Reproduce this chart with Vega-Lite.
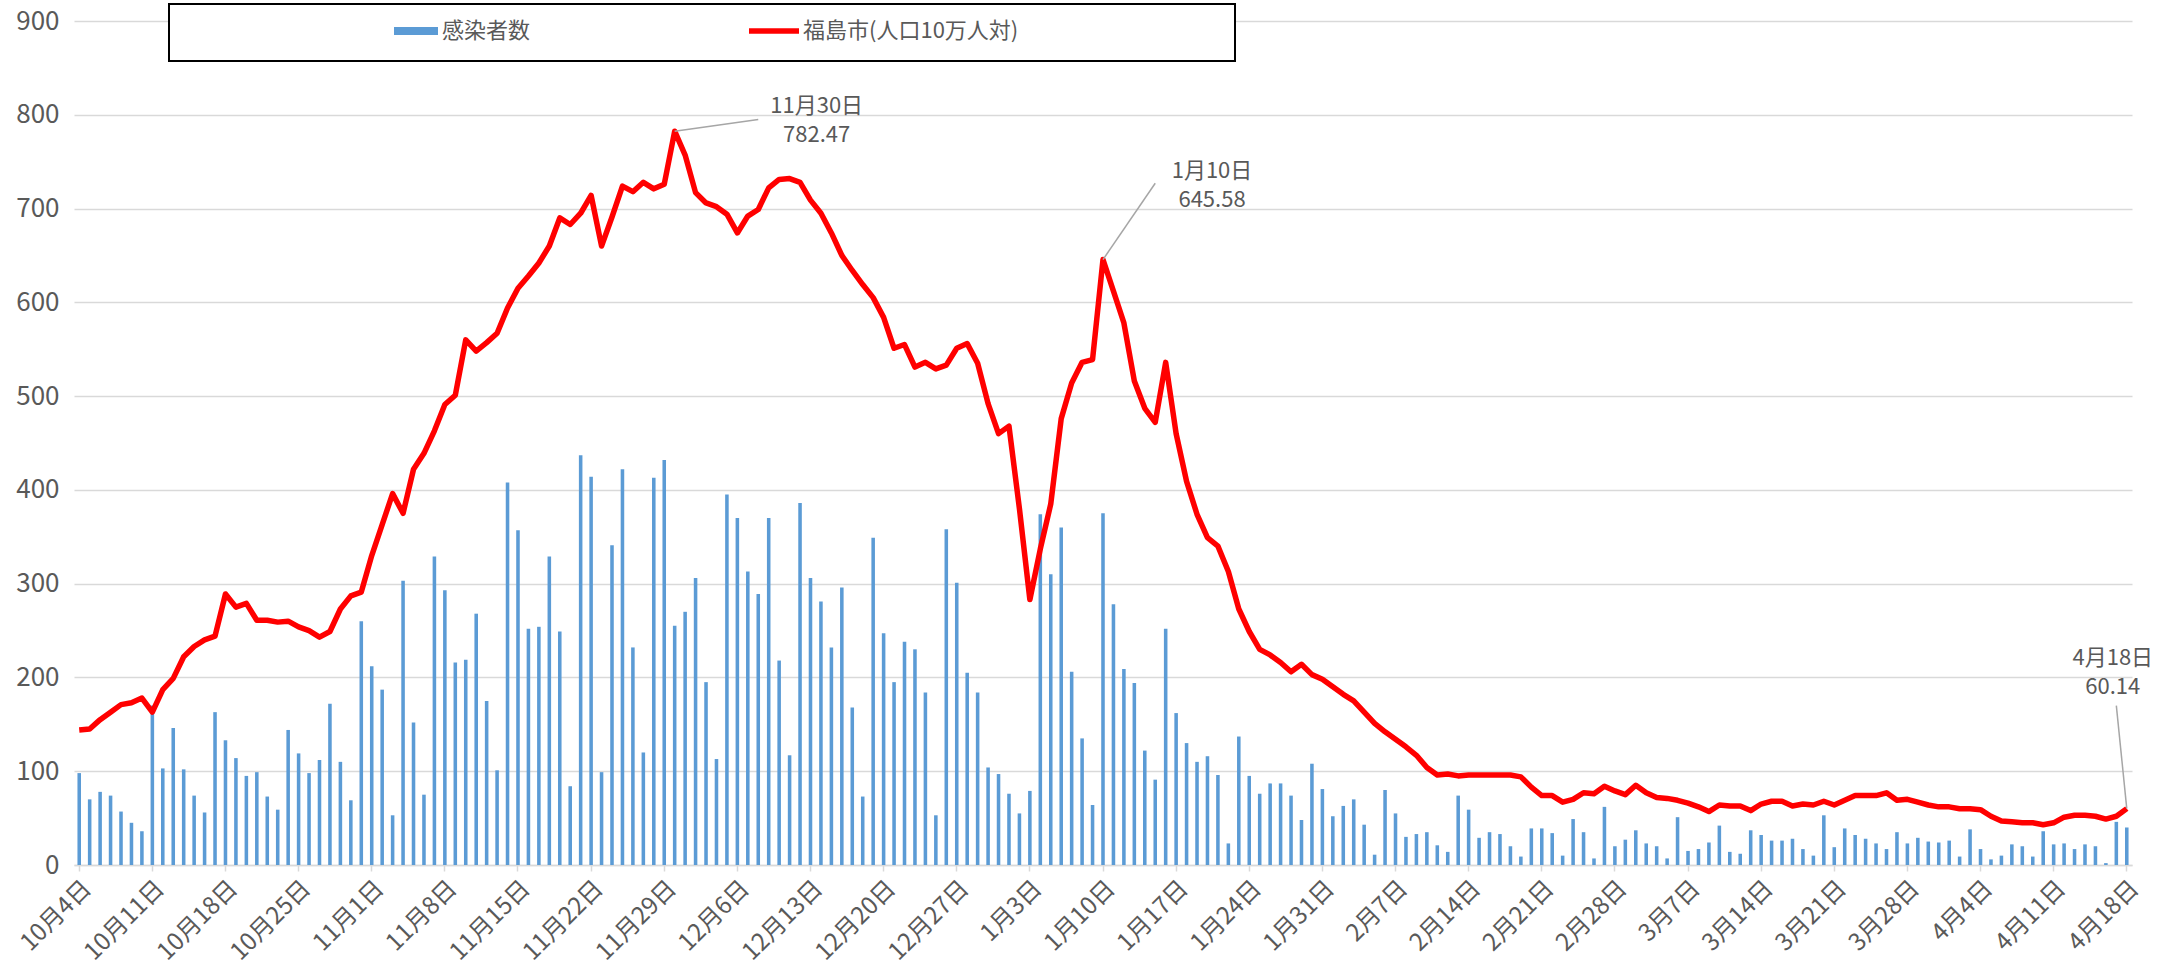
{
  "$schema": "https://vega.github.io/schema/vega-lite/v6.json",
  "width": 2058,
  "height": 844,
  "autosize": {"type": "none"},
  "padding": {"left": 74, "top": 21, "right": 38, "bottom": 101},
  "background": "white",
  "config": {
    "font": "Noto Sans CJK JP",
    "view": {"stroke": null},
    "text": {"lineBreak": "\n"}
  },
  "datasets": {
    "daily": [
      {"日付":"10月4日","感染者数":98,"人口10万人対":144},
      {"日付":"10月5日","感染者数":70,"人口10万人対":145},
      {"日付":"10月6日","感染者数":78,"人口10万人対":155},
      {"日付":"10月7日","感染者数":74,"人口10万人対":163},
      {"日付":"10月8日","感染者数":57,"人口10万人対":171},
      {"日付":"10月9日","感染者数":45,"人口10万人対":173},
      {"日付":"10月10日","感染者数":36,"人口10万人対":178},
      {"日付":"10月11日","感染者数":170,"人口10万人対":163},
      {"日付":"10月12日","感染者数":103,"人口10万人対":187},
      {"日付":"10月13日","感染者数":146,"人口10万人対":199},
      {"日付":"10月14日","感染者数":102,"人口10万人対":222},
      {"日付":"10月15日","感染者数":74,"人口10万人対":233},
      {"日付":"10月16日","感染者数":56,"人口10万人対":240},
      {"日付":"10月17日","感染者数":163,"人口10万人対":244},
      {"日付":"10月18日","感染者数":133,"人口10万人対":289},
      {"日付":"10月19日","感染者数":114,"人口10万人対":275},
      {"日付":"10月20日","感染者数":95,"人口10万人対":279},
      {"日付":"10月21日","感染者数":99,"人口10万人対":261},
      {"日付":"10月22日","感染者数":73,"人口10万人対":261},
      {"日付":"10月23日","感染者数":59,"人口10万人対":259},
      {"日付":"10月24日","感染者数":144,"人口10万人対":260},
      {"日付":"10月25日","感染者数":119,"人口10万人対":254},
      {"日付":"10月26日","感染者数":98,"人口10万人対":250},
      {"日付":"10月27日","感染者数":112,"人口10万人対":243},
      {"日付":"10月28日","感染者数":172,"人口10万人対":249},
      {"日付":"10月29日","感染者数":110,"人口10万人対":273},
      {"日付":"10月30日","感染者数":69,"人口10万人対":287},
      {"日付":"10月31日","感染者数":260,"人口10万人対":291},
      {"日付":"11月1日","感染者数":212,"人口10万人対":330},
      {"日付":"11月2日","感染者数":187,"人口10万人対":363},
      {"日付":"11月3日","感染者数":53,"人口10万人対":396},
      {"日付":"11月4日","感染者数":303,"人口10万人対":375},
      {"日付":"11月5日","感染者数":152,"人口10万人対":422},
      {"日付":"11月6日","感染者数":75,"人口10万人対":439},
      {"日付":"11月7日","感染者数":329,"人口10万人対":463},
      {"日付":"11月8日","感染者数":293,"人口10万人対":491},
      {"日付":"11月9日","感染者数":216,"人口10万人対":501},
      {"日付":"11月10日","感染者数":219,"人口10万人対":560},
      {"日付":"11月11日","感染者数":268,"人口10万人対":548},
      {"日付":"11月12日","感染者数":175,"人口10万人対":557},
      {"日付":"11月13日","感染者数":101,"人口10万人対":567},
      {"日付":"11月14日","感染者数":408,"人口10万人対":594},
      {"日付":"11月15日","感染者数":357,"人口10万人対":615},
      {"日付":"11月16日","感染者数":252,"人口10万人対":628},
      {"日付":"11月17日","感染者数":254,"人口10万人対":642},
      {"日付":"11月18日","感染者数":329,"人口10万人対":660},
      {"日付":"11月19日","感染者数":249,"人口10万人対":690},
      {"日付":"11月20日","感染者数":84,"人口10万人対":683},
      {"日付":"11月21日","感染者数":437,"人口10万人対":695},
      {"日付":"11月22日","感染者数":414,"人口10万人対":714},
      {"日付":"11月23日","感染者数":99,"人口10万人対":660},
      {"日付":"11月24日","感染者数":341,"人口10万人対":691},
      {"日付":"11月25日","感染者数":422,"人口10万人対":724},
      {"日付":"11月26日","感染者数":232,"人口10万人対":718},
      {"日付":"11月27日","感染者数":120,"人口10万人対":728},
      {"日付":"11月28日","感染者数":413,"人口10万人対":721},
      {"日付":"11月29日","感染者数":432,"人口10万人対":726},
      {"日付":"11月30日","感染者数":255,"人口10万人対":782.47},
      {"日付":"12月1日","感染者数":270,"人口10万人対":757},
      {"日付":"12月2日","感染者数":306,"人口10万人対":717},
      {"日付":"12月3日","感染者数":195,"人口10万人対":706},
      {"日付":"12月4日","感染者数":113,"人口10万人対":702},
      {"日付":"12月5日","感染者数":395,"人口10万人対":694},
      {"日付":"12月6日","感染者数":370,"人口10万人対":674},
      {"日付":"12月7日","感染者数":313,"人口10万人対":692},
      {"日付":"12月8日","感染者数":289,"人口10万人対":699},
      {"日付":"12月9日","感染者数":370,"人口10万人対":722},
      {"日付":"12月10日","感染者数":218,"人口10万人対":731},
      {"日付":"12月11日","感染者数":117,"人口10万人対":732},
      {"日付":"12月12日","感染者数":386,"人口10万人対":728},
      {"日付":"12月13日","感染者数":306,"人口10万人対":709},
      {"日付":"12月14日","感染者数":281,"人口10万人対":695},
      {"日付":"12月15日","感染者数":232,"人口10万人対":674},
      {"日付":"12月16日","感染者数":296,"人口10万人対":650},
      {"日付":"12月17日","感染者数":168,"人口10万人対":634},
      {"日付":"12月18日","感染者数":73,"人口10万人対":619},
      {"日付":"12月19日","感染者数":349,"人口10万人対":605},
      {"日付":"12月20日","感染者数":247,"人口10万人対":584},
      {"日付":"12月21日","感染者数":195,"人口10万人対":551},
      {"日付":"12月22日","感染者数":238,"人口10万人対":555},
      {"日付":"12月23日","感染者数":230,"人口10万人対":531},
      {"日付":"12月24日","感染者数":184,"人口10万人対":536},
      {"日付":"12月25日","感染者数":53,"人口10万人対":529},
      {"日付":"12月26日","感染者数":358,"人口10万人対":533},
      {"日付":"12月27日","感染者数":301,"人口10万人対":551},
      {"日付":"12月28日","感染者数":205,"人口10万人対":556},
      {"日付":"12月29日","感染者数":184,"人口10万人対":535},
      {"日付":"12月30日","感染者数":104,"人口10万人対":492},
      {"日付":"12月31日","感染者数":97,"人口10万人対":460},
      {"日付":"1月1日","感染者数":76,"人口10万人対":468},
      {"日付":"1月2日","感染者数":55,"人口10万人対":380},
      {"日付":"1月3日","感染者数":79,"人口10万人対":283},
      {"日付":"1月4日","感染者数":374,"人口10万人対":337},
      {"日付":"1月5日","感染者数":310,"人口10万人対":385},
      {"日付":"1月6日","感染者数":360,"人口10万人対":476},
      {"日付":"1月7日","感染者数":206,"人口10万人対":514},
      {"日付":"1月8日","感染者数":135,"人口10万人対":536},
      {"日付":"1月9日","感染者数":64,"人口10万人対":539},
      {"日付":"1月10日","感染者数":375,"人口10万人対":645.58},
      {"日付":"1月11日","感染者数":278,"人口10万人対":612},
      {"日付":"1月12日","感染者数":209,"人口10万人対":578},
      {"日付":"1月13日","感染者数":194,"人口10万人対":516},
      {"日付":"1月14日","感染者数":122,"人口10万人対":487},
      {"日付":"1月15日","感染者数":91,"人口10万人対":472},
      {"日付":"1月16日","感染者数":252,"人口10万人対":536},
      {"日付":"1月17日","感染者数":162,"人口10万人対":460},
      {"日付":"1月18日","感染者数":130,"人口10万人対":409},
      {"日付":"1月19日","感染者数":110,"人口10万人対":374},
      {"日付":"1月20日","感染者数":116,"人口10万人対":349},
      {"日付":"1月21日","感染者数":96,"人口10万人対":340},
      {"日付":"1月22日","感染者数":23,"人口10万人対":313},
      {"日付":"1月23日","感染者数":137,"人口10万人対":273},
      {"日付":"1月24日","感染者数":95,"人口10万人対":249},
      {"日付":"1月25日","感染者数":76,"人口10万人対":230},
      {"日付":"1月26日","感染者数":87,"人口10万人対":224},
      {"日付":"1月27日","感染者数":87,"人口10万人対":216},
      {"日付":"1月28日","感染者数":74,"人口10万人対":206},
      {"日付":"1月29日","感染者数":48,"人口10万人対":214},
      {"日付":"1月30日","感染者数":108,"人口10万人対":203},
      {"日付":"1月31日","感染者数":81,"人口10万人対":198},
      {"日付":"2月1日","感染者数":52,"人口10万人対":190},
      {"日付":"2月2日","感染者数":63,"人口10万人対":182},
      {"日付":"2月3日","感染者数":70,"人口10万人対":175},
      {"日付":"2月4日","感染者数":43,"人口10万人対":163},
      {"日付":"2月5日","感染者数":11,"人口10万人対":151},
      {"日付":"2月6日","感染者数":80,"人口10万人対":142},
      {"日付":"2月7日","感染者数":55,"人口10万人対":134},
      {"日付":"2月8日","感染者数":30,"人口10万人対":126},
      {"日付":"2月9日","感染者数":33,"人口10万人対":117},
      {"日付":"2月10日","感染者数":35,"人口10万人対":104},
      {"日付":"2月11日","感染者数":21,"人口10万人対":96},
      {"日付":"2月12日","感染者数":14,"人口10万人対":97},
      {"日付":"2月13日","感染者数":74,"人口10万人対":95},
      {"日付":"2月14日","感染者数":59,"人口10万人対":96},
      {"日付":"2月15日","感染者数":29,"人口10万人対":96},
      {"日付":"2月16日","感染者数":35,"人口10万人対":96},
      {"日付":"2月17日","感染者数":33,"人口10万人対":96},
      {"日付":"2月18日","感染者数":20,"人口10万人対":96},
      {"日付":"2月19日","感染者数":9,"人口10万人対":94},
      {"日付":"2月20日","感染者数":39,"人口10万人対":83},
      {"日付":"2月21日","感染者数":39,"人口10万人対":74},
      {"日付":"2月22日","感染者数":34,"人口10万人対":74},
      {"日付":"2月23日","感染者数":10,"人口10万人対":67},
      {"日付":"2月24日","感染者数":49,"人口10万人対":70},
      {"日付":"2月25日","感染者数":35,"人口10万人対":77},
      {"日付":"2月26日","感染者数":7,"人口10万人対":76},
      {"日付":"2月27日","感染者数":62,"人口10万人対":84},
      {"日付":"2月28日","感染者数":20,"人口10万人対":79},
      {"日付":"3月1日","感染者数":27,"人口10万人対":75},
      {"日付":"3月2日","感染者数":37,"人口10万人対":85},
      {"日付":"3月3日","感染者数":23,"人口10万人対":77},
      {"日付":"3月4日","感染者数":20,"人口10万人対":72},
      {"日付":"3月5日","感染者数":7,"人口10万人対":71},
      {"日付":"3月6日","感染者数":51,"人口10万人対":69},
      {"日付":"3月7日","感染者数":15,"人口10万人対":66},
      {"日付":"3月8日","感染者数":17,"人口10万人対":62},
      {"日付":"3月9日","感染者数":24,"人口10万人対":57},
      {"日付":"3月10日","感染者数":42,"人口10万人対":64},
      {"日付":"3月11日","感染者数":14,"人口10万人対":63},
      {"日付":"3月12日","感染者数":12,"人口10万人対":63},
      {"日付":"3月13日","感染者数":37,"人口10万人対":58},
      {"日付":"3月14日","感染者数":32,"人口10万人対":65},
      {"日付":"3月15日","感染者数":26,"人口10万人対":68},
      {"日付":"3月16日","感染者数":26,"人口10万人対":68},
      {"日付":"3月17日","感染者数":28,"人口10万人対":63},
      {"日付":"3月18日","感染者数":17,"人口10万人対":65},
      {"日付":"3月19日","感染者数":10,"人口10万人対":64},
      {"日付":"3月20日","感染者数":53,"人口10万人対":68},
      {"日付":"3月21日","感染者数":19,"人口10万人対":64},
      {"日付":"3月22日","感染者数":39,"人口10万人対":69},
      {"日付":"3月23日","感染者数":32,"人口10万人対":74},
      {"日付":"3月24日","感染者数":28,"人口10万人対":74},
      {"日付":"3月25日","感染者数":23,"人口10万人対":74},
      {"日付":"3月26日","感染者数":17,"人口10万人対":77},
      {"日付":"3月27日","感染者数":35,"人口10万人対":69},
      {"日付":"3月28日","感染者数":23,"人口10万人対":70},
      {"日付":"3月29日","感染者数":29,"人口10万人対":67},
      {"日付":"3月30日","感染者数":25,"人口10万人対":64},
      {"日付":"3月31日","感染者数":24,"人口10万人対":62},
      {"日付":"4月1日","感染者数":26,"人口10万人対":62},
      {"日付":"4月2日","感染者数":9,"人口10万人対":60},
      {"日付":"4月3日","感染者数":38,"人口10万人対":60},
      {"日付":"4月4日","感染者数":17,"人口10万人対":59},
      {"日付":"4月5日","感染者数":6,"人口10万人対":52},
      {"日付":"4月6日","感染者数":10,"人口10万人対":47},
      {"日付":"4月7日","感染者数":22,"人口10万人対":46},
      {"日付":"4月8日","感染者数":20,"人口10万人対":45},
      {"日付":"4月9日","感染者数":9,"人口10万人対":45},
      {"日付":"4月10日","感染者数":36,"人口10万人対":43},
      {"日付":"4月11日","感染者数":22,"人口10万人対":45},
      {"日付":"4月12日","感染者数":23,"人口10万人対":51},
      {"日付":"4月13日","感染者数":17,"人口10万人対":53},
      {"日付":"4月14日","感染者数":22,"人口10万人対":53},
      {"日付":"4月15日","感染者数":20,"人口10万人対":52},
      {"日付":"4月16日","感染者数":2,"人口10万人対":49},
      {"日付":"4月17日","感染者数":46,"人口10万人対":52},
      {"日付":"4月18日","感染者数":40,"人口10万人対":60.14}
    ],
    "leaders": [
      {"g":"a","日付":"11月30日","値":782.47},
      {"g":"a","日付":"12月8日","値":795},
      {"g":"b","日付":"1月10日","値":645.58},
      {"g":"b","日付":"1月15日","値":727},
      {"g":"c","日付":"4月18日","値":60.14},
      {"g":"c","日付":"4月17日","値":170}
    ],
    "notes": [
      {"日付":"11月30日","値":782.47,"ラベル":"11月30日\n782.47"},
      {"日付":"1月10日","値":645.58,"ラベル":"1月10日\n645.58"},
      {"日付":"4月18日","値":60.14,"ラベル":"4月18日\n60.14"}
    ]
  },
  "layer": [
    {
      "data": {"name": "daily"},
      "mark": {"type": "bar"},
      "encoding": {
        "x": {
          "field": "日付", "type": "ordinal", "title": null,
          "scale": {
            "paddingInner": 0.66, "paddingOuter": 0.33,
            "domain": ["10月4日","10月5日","10月6日","10月7日","10月8日","10月9日","10月10日","10月11日","10月12日","10月13日","10月14日","10月15日","10月16日","10月17日","10月18日","10月19日","10月20日","10月21日","10月22日","10月23日","10月24日","10月25日","10月26日","10月27日","10月28日","10月29日","10月30日","10月31日","11月1日","11月2日","11月3日","11月4日","11月5日","11月6日","11月7日","11月8日","11月9日","11月10日","11月11日","11月12日","11月13日","11月14日","11月15日","11月16日","11月17日","11月18日","11月19日","11月20日","11月21日","11月22日","11月23日","11月24日","11月25日","11月26日","11月27日","11月28日","11月29日","11月30日","12月1日","12月2日","12月3日","12月4日","12月5日","12月6日","12月7日","12月8日","12月9日","12月10日","12月11日","12月12日","12月13日","12月14日","12月15日","12月16日","12月17日","12月18日","12月19日","12月20日","12月21日","12月22日","12月23日","12月24日","12月25日","12月26日","12月27日","12月28日","12月29日","12月30日","12月31日","1月1日","1月2日","1月3日","1月4日","1月5日","1月6日","1月7日","1月8日","1月9日","1月10日","1月11日","1月12日","1月13日","1月14日","1月15日","1月16日","1月17日","1月18日","1月19日","1月20日","1月21日","1月22日","1月23日","1月24日","1月25日","1月26日","1月27日","1月28日","1月29日","1月30日","1月31日","2月1日","2月2日","2月3日","2月4日","2月5日","2月6日","2月7日","2月8日","2月9日","2月10日","2月11日","2月12日","2月13日","2月14日","2月15日","2月16日","2月17日","2月18日","2月19日","2月20日","2月21日","2月22日","2月23日","2月24日","2月25日","2月26日","2月27日","2月28日","3月1日","3月2日","3月3日","3月4日","3月5日","3月6日","3月7日","3月8日","3月9日","3月10日","3月11日","3月12日","3月13日","3月14日","3月15日","3月16日","3月17日","3月18日","3月19日","3月20日","3月21日","3月22日","3月23日","3月24日","3月25日","3月26日","3月27日","3月28日","3月29日","3月30日","3月31日","4月1日","4月2日","4月3日","4月4日","4月5日","4月6日","4月7日","4月8日","4月9日","4月10日","4月11日","4月12日","4月13日","4月14日","4月15日","4月16日","4月17日","4月18日"]
          },
          "axis": {
            "values": ["10月4日","10月11日","10月18日","10月25日","11月1日","11月8日","11月15日","11月22日","11月29日","12月6日","12月13日","12月20日","12月27日","1月3日","1月10日","1月17日","1月24日","1月31日","2月7日","2月14日","2月21日","2月28日","3月7日","3月14日","3月21日","3月28日","4月4日","4月11日","4月18日"],
            "labelAngle": -45,
            "labelFontSize": 24,
            "labelColor": "#595959",
            "labelPadding": 5,
            "labelOverlap": false,
            "labelBound": false,
            "ticks": true,
            "tickColor": "#D9D9D9",
            "tickSize": 6,
            "tickWidth": 1.5,
            "domainColor": "#D9D9D9",
            "domainWidth": 1.5,
            "grid": false
          }
        },
        "y": {
          "field": "感染者数", "type": "quantitative", "title": null,
          "scale": {"domain": [0, 900], "nice": false},
          "axis": {
            "values": [0,100,200,300,400,500,600,700,800,900],
            "grid": true,
            "gridColor": "#D9D9D9",
            "gridWidth": 1.5,
            "domain": false,
            "ticks": false,
            "labelFontSize": 26,
            "labelColor": "#595959",
            "labelPadding": 15
          }
        },
        "color": {
          "datum": "感染者数",
          "scale": {"domain": ["感染者数", "福島市(人口10万人対)"], "range": ["#5B9BD5", "#FF0000"]},
          "legend": {
            "orient": "none",
            "legendX": 95,
            "legendY": -17,
            "direction": "horizontal",
            "title": null,
            "symbolSize": 2500,
            "symbolStrokeWidth": 0,
            "symbolOffset": 219,
            "labelFontSize": 22,
            "labelColor": "#595959",
            "labelOffset": 2,
            "labelLimit": 500,
            "columnPadding": 1,
            "padding": 2,
            "strokeColor": "#000000",
            "fillColor": "#FFFFFF",
            "encode": {
              "legend": {"update": {"strokeWidth": {"value": 2}}},
              "symbols": {
                "update": {
                  "shape": {"signal": "datum.value === '感染者数' ? 'M-0.84,-0.16H0.92V0.16H-0.84ZM0,1.12' : 'M-1.08,-0.11H0.92V0.11H-1.08ZM18.28,1.12'"},
                  "fill": {"signal": "datum.value === '感染者数' ? '#5B9BD5' : '#FF0000'"},
                  "stroke": {"value": "transparent"},
                  "strokeWidth": {"value": 0},
                  "opacity": {"value": 1},
                  "size": {"value": 2500}
                }
              }
            }
          }
        }
      }
    },
    {
      "data": {"name": "daily"},
      "mark": {"type": "line", "strokeWidth": 5.5, "strokeJoin": "round"},
      "encoding": {
        "x": {"field": "日付", "type": "ordinal", "title": null},
        "y": {"field": "人口10万人対", "type": "quantitative", "title": null},
        "color": {"datum": "福島市(人口10万人対)"}
      }
    },
    {
      "data": {"name": "leaders"},
      "mark": {"type": "line", "color": "#A6A6A6", "strokeWidth": 1.5},
      "encoding": {
        "x": {"field": "日付", "type": "ordinal", "title": null},
        "y": {"field": "値", "type": "quantitative", "title": null},
        "detail": {"field": "g"}
      }
    },
    {
      "data": {"name": "notes"},
      "transform": [{"filter": "datum['日付'] === '11月30日'"}],
      "mark": {"type": "text", "dx": 142, "dy": -25, "align": "center", "baseline": "middle", "fontSize": 22, "lineHeight": 29, "color": "#595959"},
      "encoding": {
        "x": {"field": "日付", "type": "ordinal", "title": null},
        "y": {"field": "値", "type": "quantitative", "title": null},
        "text": {"field": "ラベル"}
      }
    },
    {
      "data": {"name": "notes"},
      "transform": [{"filter": "datum['日付'] === '1月10日'"}],
      "mark": {"type": "text", "dx": 109, "dy": -89, "align": "center", "baseline": "middle", "fontSize": 22, "lineHeight": 29, "color": "#595959"},
      "encoding": {
        "x": {"field": "日付", "type": "ordinal", "title": null},
        "y": {"field": "値", "type": "quantitative", "title": null},
        "text": {"field": "ラベル"}
      }
    },
    {
      "data": {"name": "notes"},
      "transform": [{"filter": "datum['日付'] === '4月18日'"}],
      "mark": {"type": "text", "dx": -14, "dy": -151, "align": "center", "baseline": "middle", "fontSize": 22, "lineHeight": 29, "color": "#595959"},
      "encoding": {
        "x": {"field": "日付", "type": "ordinal", "title": null},
        "y": {"field": "値", "type": "quantitative", "title": null},
        "text": {"field": "ラベル"}
      }
    }
  ]
}
